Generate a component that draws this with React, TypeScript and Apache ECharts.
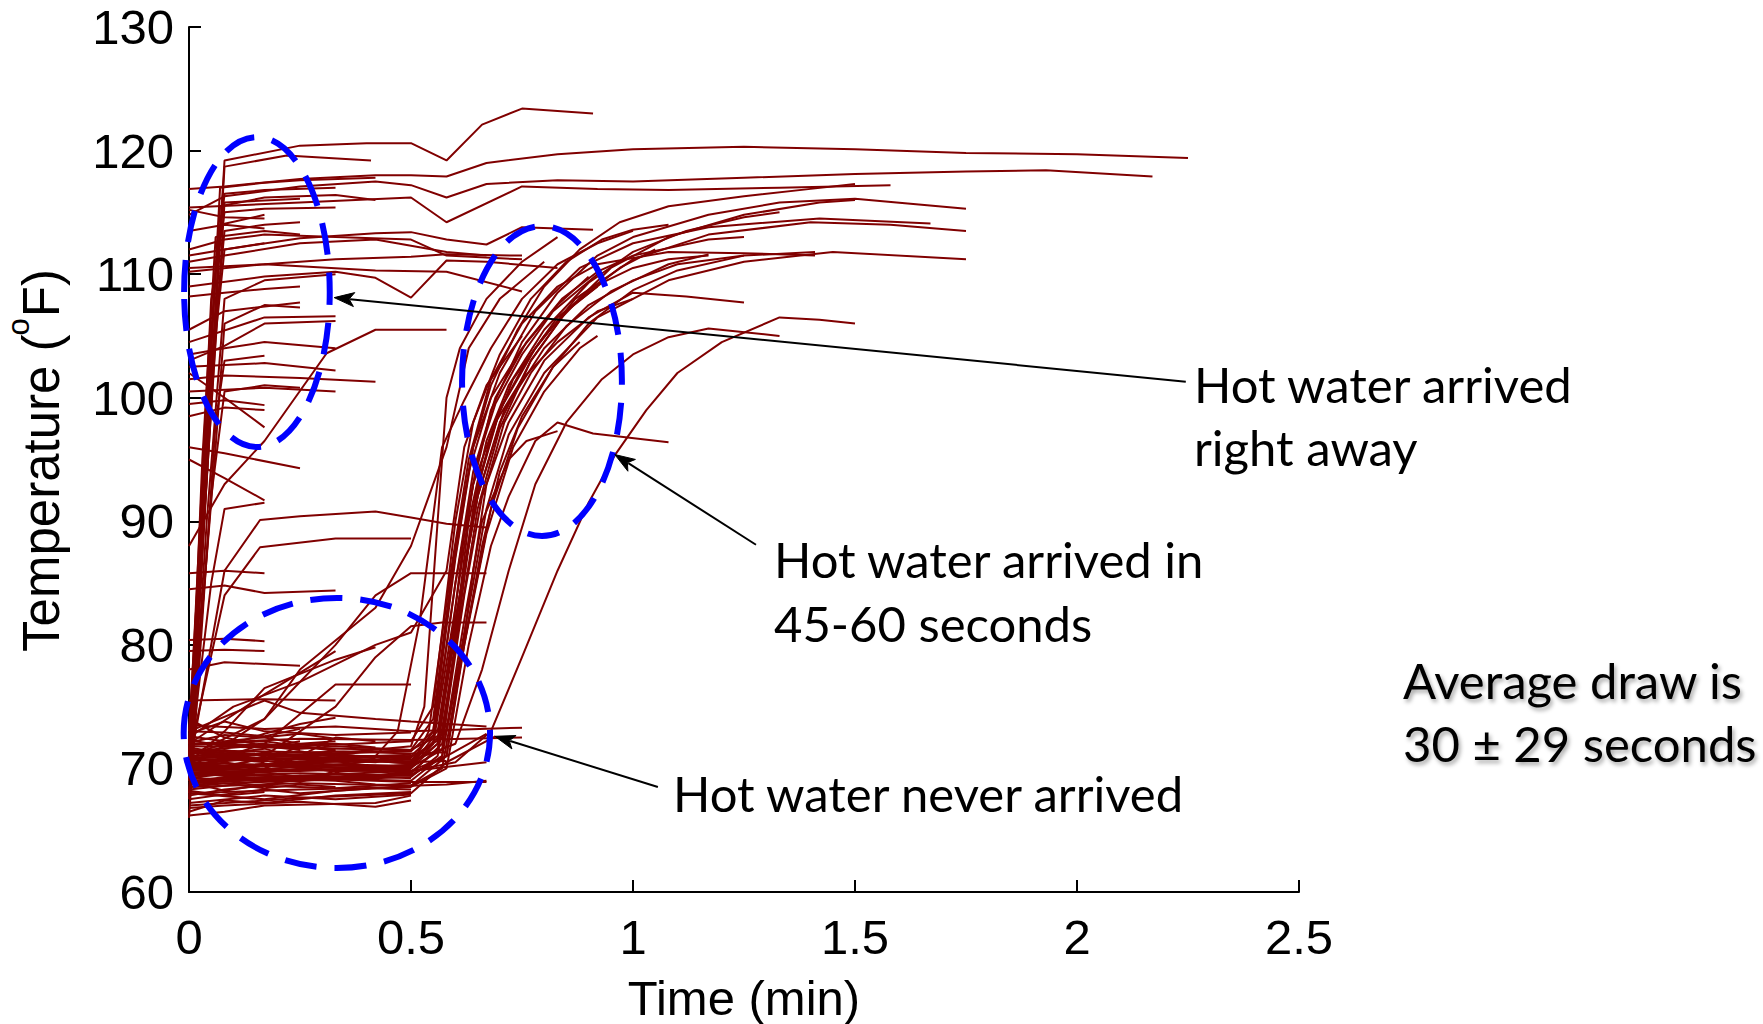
import React, { useEffect, useRef } from "react";
import * as echarts from "echarts";

// ---------------- data ----------------
const xTickValues = [0, 0.5, 1, 1.5, 2, 2.5];
const yTickValues = [60, 70, 80, 90, 100, 110, 120, 130];
const xAxisTitle = "Time (min)";
const yAxisTitleParts = ["Temperature (", "o", "F)"];

// [time (min), temperature (F)]
const hotRightAwayTraces: number[][][] = [
  [[0, 72], [0.04, 96], [0.08, 119.2], [0.25, 120.4], [0.4, 120.6], [0.5, 120.6], [0.58, 119.2], [0.66, 122.1], [0.75, 123.4], [0.91, 123.0]],
  [[0, 71], [0.04, 94], [0.08, 118.7], [0.22, 119.6], [0.41, 119.2]],
  [[0, 116.9], [0.08, 117.1], [0.25, 117.7], [0.42, 118.0], [0.5, 118.0], [0.58, 117.9], [0.67, 119.0], [0.83, 119.7], [1.0, 120.1], [1.25, 120.3], [1.5, 120.1], [1.75, 119.8], [2.0, 119.7], [2.25, 119.4]],
  [[0, 114.8], [0.08, 116.3], [0.25, 117.1], [0.42, 117.5], [0.5, 117.2], [0.58, 116.2], [0.67, 117.3], [0.83, 117.6], [1.0, 117.5], [1.25, 117.8], [1.5, 118.1], [1.75, 118.3], [1.93, 118.4], [2.17, 117.9]],
  [[0, 115.4], [0.25, 115.8], [0.5, 116.2], [0.58, 114.2], [0.75, 117.1], [0.92, 116.9], [1.08, 116.8], [1.33, 117.0], [1.58, 117.2]],
  [[0, 111.5], [0.08, 112], [0.25, 112.9], [0.42, 113.3], [0.5, 113.4], [0.58, 112.8], [0.67, 112.4], [0.75, 113.8], [0.91, 113.6]],
  [[0, 70], [0.04, 100], [0.07, 115.5], [0.17, 116.2], [0.33, 116.4], [0.42, 116.0]],
  [[0, 72], [0.05, 108], [0.08, 115], [0.17, 115.3], [0.33, 115.4]],
  [[0, 115.2], [0.08, 114.6], [0.17, 114.5]],
  [[0, 113.5], [0.08, 114], [0.17, 113.7]],
  [[0, 69], [0.03, 95], [0.06, 113], [0.17, 113.5], [0.25, 113.2]],
  [[0, 112], [0.08, 112.8], [0.17, 113.2], [0.33, 113], [0.5, 112.8], [0.58, 111.5], [0.75, 111.2]],
  [[0, 111], [0.08, 111.5], [0.25, 112.5], [0.42, 112.8], [0.58, 111.8], [0.67, 111.5]],
  [[0, 110.5], [0.17, 110.8], [0.33, 111.2], [0.5, 111.4], [0.58, 111.6], [0.75, 111.5]],
  [[0, 110.2], [0.17, 110.8], [0.42, 110.3], [0.58, 110.2], [0.75, 108.6]],
  [[0, 109], [0.17, 109.8], [0.33, 110.2], [0.42, 109.7], [0.5, 108.1], [0.58, 111.1], [0.67, 111.0], [0.83, 110.5]],
  [[0, 68], [0.04, 90], [0.08, 108], [0.17, 109.5], [0.33, 110]],
  [[0, 108.2], [0.08, 108.5], [0.17, 108.8], [0.25, 109]],
  [[0, 105.5], [0.08, 107], [0.25, 107.7]],
  [[0, 104.5], [0.17, 106.5], [0.33, 106.6]],
  [[0, 103], [0.08, 104.2], [0.17, 106], [0.33, 106.2]],
  [[0, 88], [0.08, 93], [0.17, 96.5], [0.31, 103.6], [0.42, 105.5], [0.58, 105.5]],
  [[0, 103.5], [0.08, 104], [0.17, 104.5], [0.33, 104]],
  [[0, 102.5], [0.17, 102.8], [0.33, 102.2]],
  [[0, 101.5], [0.08, 101.8], [0.25, 101.6], [0.42, 101.3]],
  [[0, 100.5], [0.17, 100.8], [0.33, 100.5]],
  [[0, 99.5], [0.08, 99.8], [0.17, 99.4]],
  [[0, 98.5], [0.08, 99.2], [0.17, 99]],
  [[0, 102], [0.08, 100], [0.17, 97.6]],
  [[0, 96], [0.08, 95.5], [0.25, 94.3]],
  [[0, 95], [0.08, 93.5], [0.17, 91.7]],
  [[0, 69], [0.05, 92], [0.08, 100.5], [0.17, 101], [0.25, 100.8]],
  [[0, 70], [0.06, 105], [0.08, 112], [0.17, 112.5]],
  [[0, 71], [0.07, 117], [0.17, 117.4], [0.25, 117.6], [0.42, 117.8]],
  [[0, 66], [0.06, 98], [0.08, 103], [0.17, 103.4]],
  [[0, 70], [0.05, 85], [0.08, 91], [0.17, 91.5]],
  [[0, 73], [0.06, 110], [0.08, 116.5], [0.17, 116.8], [0.33, 117]],
  [[0, 67.5], [0.05, 100], [0.07, 114], [0.17, 114.8]],
  [[0, 70.5], [0.05, 102], [0.08, 113.5], [0.17, 114], [0.25, 114.2]],
  [[0, 69.5], [0.06, 96], [0.08, 106], [0.17, 107.5], [0.25, 107.3]],
  [[0, 71.5], [0.07, 110], [0.08, 115.8], [0.25, 116.1]],
];

const partialTraces: number[][][] = [
  [[0, 70], [0.08, 86], [0.16, 90.1], [0.25, 90.4], [0.42, 90.8], [0.5, 90.3], [0.58, 89.8], [0.67, 89.5]],
  [[0, 71], [0.08, 84], [0.16, 87.9], [0.33, 88.6], [0.5, 88.6]],
  [[0, 85.8], [0.08, 86], [0.17, 85.8]],
  [[0, 84.5], [0.08, 84.8], [0.17, 84.2], [0.33, 84.4]],
  [[0, 80.4], [0.08, 80.5], [0.17, 80.3]],
  [[0, 79.5], [0.08, 79.6], [0.17, 79.5]],
  [[0, 78], [0.08, 78.6], [0.25, 78.3]],
  [[0, 72], [0.17, 76], [0.33, 79.5]],
  [[0, 70.5], [0.08, 73], [0.17, 76.5], [0.33, 78.8], [0.42, 79.8]],
  [[0, 75.5], [0.17, 75.6], [0.33, 75.5]],
  [[0, 70], [0.17, 72], [0.33, 76.8], [0.5, 76.8]],
  [[0, 70], [0.17, 74], [0.33, 80], [0.42, 84], [0.5, 85.8], [0.67, 85.8]],
  [[0, 71], [0.17, 74], [0.25, 78], [0.42, 83], [0.5, 88], [0.58, 96], [0.63, 104], [0.7, 108], [0.8, 111]],
  [[0, 69], [0.17, 71], [0.33, 75], [0.42, 79], [0.5, 81.5], [0.57, 81.8], [0.67, 81.8]],
  [[0, 72.5], [0.1, 75], [0.25, 77], [0.42, 80], [0.5, 81], [0.58, 86], [0.62, 96], [0.67, 101], [0.75, 105]],
  [[0, 73], [0.17, 75.5], [0.25, 74.5], [0.42, 74], [0.5, 73.8], [0.67, 73.4]],
];

const neverArrivedTraces: number[][][] = [
  [[0, 70.5], [0.08, 70.2], [0.17, 70.8], [0.25, 70.4], [0.33, 70.6], [0.42, 70.1], [0.5, 70.3]],
  [[0, 69.8], [0.08, 70.5], [0.17, 69.9], [0.25, 70.2], [0.33, 69.7], [0.42, 70], [0.5, 69.6]],
  [[0, 71.2], [0.08, 71.5], [0.17, 71], [0.25, 71.4], [0.33, 70.9], [0.5, 71.1]],
  [[0, 68.9], [0.08, 69.3], [0.17, 69.1], [0.33, 69.5], [0.5, 69.2]],
  [[0, 72.3], [0.08, 71.8], [0.17, 72], [0.25, 71.6], [0.33, 71.8], [0.5, 71.5]],
  [[0, 67.8], [0.08, 68.3], [0.17, 68.6], [0.33, 68.4], [0.5, 68.8]],
  [[0, 70], [0.08, 69.5], [0.17, 69.7], [0.25, 69.3]],
  [[0, 71.5], [0.08, 70.8], [0.17, 70.5]],
  [[0, 68.5], [0.08, 68.8], [0.17, 68.4], [0.25, 68.7], [0.33, 68.5]],
  [[0, 69.3], [0.08, 69.9], [0.17, 70.3], [0.33, 70.1], [0.42, 69.8], [0.5, 70]],
  [[0, 73.5], [0.17, 73.2], [0.33, 73.4], [0.5, 73], [0.75, 73.3]],
  [[0, 72], [0.25, 72.4], [0.5, 72.3], [0.75, 72.5]],
  [[0, 69], [0.25, 69.2], [0.5, 68.9], [0.67, 68.9]],
  [[0, 66.2], [0.08, 66.5], [0.17, 67], [0.42, 67.2], [0.5, 67.8]],
  [[0, 67], [0.25, 67.6], [0.5, 68], [0.58, 70.5], [0.69, 72.6]],
  [[0, 68], [0.17, 67.5], [0.33, 68.2], [0.5, 68.6], [0.58, 71], [0.67, 72.8]],
  [[0, 66.8], [0.08, 67], [0.25, 67.3], [0.42, 66.9], [0.5, 67.4]],
  [[0, 70.8], [0.08, 71], [0.25, 70.7], [0.42, 70.9], [0.5, 70.5], [0.58, 70.6]],
  [[0, 74], [0.08, 72.5], [0.17, 71.8], [0.25, 71.5]],
  [[0, 72.8], [0.08, 73.8], [0.17, 73], [0.33, 72.7], [0.5, 72.9]],
  [[0, 71.9], [0.17, 72.2], [0.33, 71.4], [0.5, 71.2], [0.58, 71.3]],
  [[0, 69.6], [0.17, 69.2], [0.33, 69.0], [0.42, 68.7], [0.5, 68.6], [0.58, 68.7], [0.67, 69]],
  [[0, 67.2], [0.17, 67.8], [0.33, 67.5], [0.5, 67.9]],
  [[0, 70.3], [0.17, 70.9], [0.33, 71.2], [0.42, 70.8]],
  [[0, 68.2], [0.08, 67.8], [0.17, 68.1]],
  [[0, 71.1], [0.08, 72], [0.17, 71.7], [0.25, 72.2]],
  [[0, 70.6], [0.08, 69.4], [0.17, 69], [0.33, 69.3]],
  [[0, 72.6], [0.08, 72.2], [0.25, 72.8], [0.33, 72.4]],
  [[0, 68.7], [0.25, 69.0], [0.42, 69.4], [0.5, 69.8], [0.67, 70.5]],
  [[0, 69.5], [0.08, 69.9], [0.17, 70.4], [0.25, 70], [0.33, 70.3], [0.42, 70.6], [0.5, 70.4]],
  [[0, 70.2], [0.08, 70.7], [0.17, 71.3], [0.25, 70.9], [0.33, 71.1], [0.5, 70.8]],
  [[0, 68.3], [0.08, 68.6], [0.17, 69], [0.25, 69.4], [0.33, 69.1], [0.42, 69.3], [0.5, 69.5]],
  [[0, 71.7], [0.08, 71.2], [0.17, 71.6], [0.25, 70.8], [0.42, 71], [0.5, 70.7]],
  [[0, 67.5], [0.08, 67.9], [0.17, 68.3], [0.25, 68], [0.42, 68.4], [0.5, 68.3]],
  [[0, 70.9], [0.08, 71.4], [0.17, 70.6], [0.25, 71.8], [0.33, 71.5]],
  [[0, 69.9], [0.17, 69.4], [0.25, 68.9], [0.33, 69.8], [0.5, 69.9]],
  [[0, 72.1], [0.08, 72.7], [0.17, 72.5], [0.25, 72], [0.33, 72.2]],
  [[0, 66.5], [0.08, 67.4], [0.17, 67.2], [0.33, 67.8], [0.5, 68.1]],
  [[0, 70.1], [0.08, 70], [0.17, 70.3], [0.25, 70.8], [0.42, 70.5], [0.5, 71]],
  [[0, 73], [0.08, 72.9], [0.17, 72.6], [0.25, 73.2]],
  [[0, 71.4], [0.17, 71.9], [0.33, 72], [0.42, 71.7]],
  [[0, 68.9], [0.08, 68.2], [0.17, 68.7], [0.25, 69.1]],
  [[0, 69.2], [0.17, 70], [0.25, 71], [0.33, 72.5], [0.42, 72.2]],
  [[0, 70.4], [0.08, 71.8], [0.17, 72.8], [0.25, 73.6], [0.33, 74.1]],
];

const delayedTraces: number[][][] = [
  [[0, 69.8], [0.17, 70.2], [0.33, 69.9], [0.5, 70.1], [0.55, 72], [0.6, 83], [0.64, 93], [0.68, 99], [0.75, 104.5], [0.83, 108.5], [0.92, 111.5], [1.0, 113], [1.17, 114.8], [1.33, 115.8], [1.5, 116.1], [1.75, 115.3]],
  [[0, 70.5], [0.17, 70.3], [0.33, 70.8], [0.5, 70.4], [0.56, 72.5], [0.61, 84], [0.65, 93], [0.7, 99], [0.78, 104], [0.87, 108], [1.0, 111.2], [1.17, 113.2], [1.4, 114.2], [1.58, 114], [1.75, 113.5]],
  [[0, 68.8], [0.25, 69.2], [0.5, 69], [0.57, 71], [0.62, 81], [0.67, 91], [0.72, 97], [0.8, 102], [0.92, 106.5], [1.08, 109.5], [1.25, 111], [1.45, 111.8], [1.75, 111.2]],
  [[0, 71.2], [0.25, 71], [0.5, 71.5], [0.55, 74], [0.6, 88], [0.64, 96], [0.7, 102], [0.78, 107], [0.88, 110.5], [1.0, 112.5], [1.17, 113.8], [1.42, 114.5], [1.67, 114.1]],
  [[0, 70], [0.25, 70.4], [0.5, 70.2], [0.54, 73], [0.59, 86], [0.63, 95], [0.68, 101.5], [0.75, 106], [0.83, 109], [0.92, 110.8], [1.08, 111.8], [1.25, 111.7], [1.41, 111.5]],
  [[0, 69.5], [0.33, 69.3], [0.5, 69.6], [0.57, 72], [0.62, 84], [0.66, 92], [0.72, 98], [0.8, 103], [0.9, 106.5], [1.0, 108.5], [1.12, 108.2], [1.25, 107.7]],
  [[0, 69], [0.25, 69.4], [0.5, 69.8], [0.6, 70.5], [0.68, 73], [0.75, 79], [0.83, 86], [0.9, 91.5], [0.96, 95.4], [1.03, 99], [1.1, 102], [1.2, 104.5], [1.33, 106.5], [1.42, 106.3], [1.5, 106]],
  [[0, 70.8], [0.25, 70.5], [0.5, 70.6], [0.6, 72], [0.66, 78], [0.72, 86], [0.78, 93], [0.85, 98], [0.93, 101.5], [1.0, 103.5], [1.08, 104.9], [1.17, 105.6], [1.33, 105]],
  [[0, 71.5], [0.25, 71.3], [0.5, 71.4], [0.55, 73], [0.6, 87], [0.64, 96], [0.68, 101], [0.74, 105.5], [0.8, 109], [0.88, 112], [0.97, 114.2], [1.08, 115.5], [1.25, 116.3], [1.4, 116.9], [1.5, 117.3]],
  [[0, 69.2], [0.25, 69], [0.5, 69.3], [0.56, 71], [0.61, 82], [0.65, 91], [0.7, 97.5], [0.77, 103], [0.85, 107], [0.93, 109.3], [1.0, 110.5], [1.08, 111.2], [1.17, 111.5]],
  [[0, 70.3], [0.33, 70.1], [0.5, 70.2], [0.55, 72.5], [0.6, 85], [0.64, 94], [0.69, 100], [0.76, 104.5], [0.84, 108], [0.92, 110.2], [1.0, 111.5], [1.17, 112.8], [1.25, 113]],
  [[0, 68.5], [0.25, 68.8], [0.5, 68.6], [0.57, 70], [0.62, 80], [0.67, 89], [0.73, 96], [0.8, 100.5], [0.88, 104], [0.92, 105]],
  [[0, 72], [0.25, 71.8], [0.5, 72.2], [0.55, 75], [0.6, 90], [0.64, 98], [0.7, 103.5], [0.77, 108], [0.85, 111], [0.93, 112.8], [1.0, 113.6], [1.08, 114]],
  [[0, 70.6], [0.25, 70.8], [0.5, 70.5], [0.55, 73], [0.59, 85], [0.63, 94], [0.68, 100], [0.75, 104], [0.83, 107.5], [0.9, 109.8]],
  [[0, 69.7], [0.33, 69.9], [0.5, 69.7], [0.56, 71.5], [0.6, 82], [0.65, 92], [0.71, 99], [0.8, 104], [0.9, 107.5], [1.0, 109.5], [1.1, 110.8], [1.25, 111.5]],
  [[0, 70], [0.25, 70.5], [0.42, 71], [0.47, 73], [0.52, 82], [0.57, 96], [0.62, 99.8], [0.68, 104], [0.75, 108], [0.83, 110.8], [0.92, 112.5], [1.0, 113.5]],
  [[0, 71], [0.33, 71.2], [0.5, 71.8], [0.53, 75], [0.56, 90], [0.58, 100], [0.61, 104], [0.67, 108], [0.75, 111], [0.83, 113]],
  [[0, 68], [0.25, 68.3], [0.5, 68.5], [0.58, 70], [0.63, 80], [0.68, 88], [0.72, 92], [0.78, 96.5], [0.83, 98], [0.91, 97.1], [1.08, 96.4]],
  [[0, 69.4], [0.25, 69.6], [0.5, 69.4], [0.57, 71], [0.62, 82], [0.66, 90], [0.72, 95], [0.76, 96.5], [0.83, 97.3]],
  [[0, 70.2], [0.25, 69.9], [0.5, 70], [0.56, 72], [0.6, 82], [0.65, 92], [0.7, 98], [0.77, 103], [0.85, 107], [0.95, 110.5], [1.08, 113], [1.25, 114.8], [1.42, 115.8], [1.5, 116]],
  [[0, 71.8], [0.5, 71.5], [0.58, 73], [0.63, 82], [0.68, 91], [0.74, 97.5], [0.82, 102.5], [0.9, 106], [1.0, 108.7], [1.1, 110.3], [1.25, 111.5], [1.41, 111.8]],
  [[0, 70.9], [0.5, 70.7], [0.55, 72], [0.6, 85], [0.64, 93], [0.69, 98], [0.75, 101.5], [0.83, 104.5], [0.92, 107], [1.0, 108]],
  [[0, 70.1], [0.25, 70.3], [0.5, 70.1], [0.57, 71.5], [0.6, 80], [0.63, 88], [0.66, 94], [0.7, 99], [0.76, 103], [0.83, 106.5], [0.92, 109]],
  [[0, 69.6], [0.25, 69.8], [0.5, 70.3], [0.56, 72], [0.6, 81], [0.63, 90], [0.67, 96.5], [0.72, 101], [0.8, 105.5], [0.9, 109.3], [1.0, 111.8], [1.12, 113.5], [1.25, 114.6], [1.33, 115]],
  [[0, 71.3], [0.25, 71.1], [0.5, 70.9], [0.57, 72.5], [0.61, 83], [0.64, 91], [0.68, 97], [0.73, 101.5], [0.8, 105], [0.88, 108], [0.97, 110.5], [1.05, 112]],
  [[0, 68.9], [0.25, 69.2], [0.5, 69.5], [0.58, 71], [0.61, 78], [0.64, 86], [0.67, 93], [0.71, 98], [0.77, 102], [0.85, 105.8], [0.95, 108.6], [1.08, 110.8], [1.17, 111.6]],
  [[0, 70.7], [0.5, 71], [0.56, 73], [0.59, 80], [0.62, 89], [0.65, 95], [0.69, 99.5], [0.75, 103.5], [0.82, 107], [0.92, 110]],
  [[0, 69.9], [0.5, 69.8], [0.58, 71], [0.62, 80], [0.66, 88], [0.7, 94], [0.75, 98.5], [0.82, 102.5], [0.88, 104.5]],
];

// annotation geometry in data units (time, temperature)
const ellipseNotes = [
  { cx: 0.153, cy: 108.55, rx: 0.164, ry: 12.54 },
  { cx: 0.795, cy: 101.35, rx: 0.18, ry: 12.54 },
  { cx: 0.333, cy: 72.87, rx: 0.345, ry: 10.93 },
];
const arrowNotes = [
  { from: [2.245, 101.3], to: [0.327, 108.1] },
  { from: [1.277, 88.1], to: [0.959, 95.4] },
  { from: [1.056, 68.5], to: [0.689, 72.6] },
];
const textNotes = [
  { text: "Hot water arrived", x: 1194, y: 384, shadow: false },
  { text: "right away", x: 1194, y: 447, shadow: false },
  { text: "Hot water arrived in", x: 774, y: 559, shadow: false },
  { text: "45-60 seconds", x: 774, y: 623, shadow: false },
  { text: "Hot water never arrived", x: 673, y: 793, shadow: false },
  { text: "Average draw is", x: 1403, y: 680, shadow: true },
  { text: "30 \u00B1 29 seconds", x: 1403, y: 743, shadow: true },
];

const TRACE_COLOR = "#800000";
const AXIS_FONT = "'Liberation Sans', Arial, sans-serif";
const NOTE_FONT = "Lato, 'Open Sans', sans-serif";
const Y_TITLE_SIZE = 51;
const Y_TITLE_SUP_SIZE = 31;

function measure(text: string, size: number, family: string): number {
  const c = document.createElement("canvas").getContext("2d");
  if (!c) return text.length * size * 0.55;
  c.font = `${size}px ${family}`;
  return c.measureText(text).width;
}

export default function App() {
  const ref = useRef<HTMLDivElement>(null);

  useEffect(() => {
    if (!ref.current) return;
    const chart = echarts.init(ref.current, undefined, { renderer: "svg" });

    const allTraces = [
      ...neverArrivedTraces,
      ...partialTraces,
      ...delayedTraces,
      ...hotRightAwayTraces,
    ];

    chart.setOption({
      animation: false,
      backgroundColor: "#ffffff",
      grid: {
        left: 189,
        right: 464,
        top: 27,
        bottom: 132,
        containLabel: false,
        outerBoundsMode: "none",
      },
      xAxis: {
        type: "value",
        min: xTickValues[0],
        max: xTickValues[xTickValues.length - 1],
        interval: 0.5,
        name: xAxisTitle,
        nameLocation: "middle",
        nameGap: 81,
        nameTextStyle: { fontSize: 49, fontFamily: AXIS_FONT, color: "#000" },
        axisLine: { show: true, onZero: false, lineStyle: { color: "#000", width: 2 } },
        axisTick: { show: true, inside: true, length: 12, lineStyle: { color: "#000", width: 2 } },
        axisLabel: { fontSize: 49, fontFamily: AXIS_FONT, color: "#000", margin: 20 },
        splitLine: { show: false },
      },
      yAxis: {
        type: "value",
        min: yTickValues[0],
        max: yTickValues[yTickValues.length - 1],
        interval: 10,
        axisLine: { show: true, onZero: false, lineStyle: { color: "#000", width: 2 } },
        axisTick: { show: true, inside: true, length: 12, lineStyle: { color: "#000", width: 2 } },
        axisLabel: { fontSize: 49, fontFamily: AXIS_FONT, color: "#000", margin: 15 },
        splitLine: { show: false },
      },
      series: allTraces.map((tr, i) => ({
        type: "line",
        name: "trace" + i,
        data: tr,
        showSymbol: false,
        symbol: "none",
        silent: true,
        lineStyle: { color: TRACE_COLOR, width: 2 },
        z: 2,
      })),
    });

    const px = (p: number[]) => chart.convertToPixel({ gridIndex: 0 }, p) as number[];

    const graphics: any[] = [];

    // rotated y-axis title with superscript "o"
    const w1 = measure(yAxisTitleParts[0], Y_TITLE_SIZE, AXIS_FONT);
    const w2 = measure(yAxisTitleParts[1], Y_TITLE_SUP_SIZE, AXIS_FONT);
    const w3 = measure(yAxisTitleParts[2], Y_TITLE_SIZE, AXIS_FONT);
    const total = w1 + w2 + w3;
    const yMid = (px([0, yTickValues[0]])[1] + px([0, yTickValues[yTickValues.length - 1]])[1]) / 2;
    graphics.push({
      type: "group",
      x: 41,
      y: yMid + 1,
      rotation: Math.PI / 2,
      silent: true,
      children: [
        {
          type: "text",
          x: -total / 2,
          y: 0,
          style: { text: yAxisTitleParts[0], fontSize: Y_TITLE_SIZE, fontFamily: AXIS_FONT, fill: "#000", align: "left", verticalAlign: "middle" },
        },
        {
          type: "text",
          x: -total / 2 + w1 - 1,
          y: -23,
          style: { text: yAxisTitleParts[1], fontSize: Y_TITLE_SUP_SIZE, fontFamily: AXIS_FONT, fill: "#000", align: "left", verticalAlign: "middle" },
        },
        {
          type: "text",
          x: -total / 2 + w1 + w2,
          y: 0,
          style: { text: yAxisTitleParts[2], fontSize: Y_TITLE_SIZE, fontFamily: AXIS_FONT, fill: "#000", align: "left", verticalAlign: "middle" },
        },
      ],
    });

    ellipseNotes.forEach((e) => {
      const c = px([e.cx, e.cy]);
      const r = px([e.cx + e.rx, e.cy + e.ry]);
      graphics.push({
        type: "ellipse",
        z: 100,
        silent: true,
        shape: { cx: c[0], cy: c[1], rx: Math.abs(r[0] - c[0]), ry: Math.abs(c[1] - r[1]) },
        style: { fill: "none", stroke: "#0000ff", lineWidth: 6, lineDash: [32, 18] },
      });
    });
    arrowNotes.forEach((a) => {
      const p0 = px(a.from);
      const p1 = px(a.to);
      const dx = p1[0] - p0[0];
      const dy = p1[1] - p0[1];
      const len = Math.sqrt(dx * dx + dy * dy);
      const ux = dx / len;
      const uy = dy / len;
      const L = 20;
      const W = 7;
      const bx = p1[0] - ux * L;
      const by = p1[1] - uy * L;
      graphics.push({
        type: "line",
        z: 101,
        silent: true,
        shape: { x1: p0[0], y1: p0[1], x2: bx + ux * 4, y2: by + uy * 4 },
        style: { stroke: "#000", lineWidth: 2 },
      });
      graphics.push({
        type: "polygon",
        z: 101,
        silent: true,
        shape: {
          points: [
            [p1[0], p1[1]],
            [bx - uy * W, by + ux * W],
            [bx + ux * 5, by + uy * 5],
            [bx + uy * W, by - ux * W],
          ],
        },
        style: { fill: "#000", stroke: "#000", lineWidth: 1 },
      });
    });
    textNotes.forEach((t) => {
      graphics.push({
        type: "text",
        z: 102,
        silent: true,
        x: t.x,
        y: t.y,
        style: {
          text: t.text,
          fontSize: 49,
          fontFamily: NOTE_FONT,
          fill: "#000",
          align: "left",
          verticalAlign: "middle",
          ...(t.shadow
            ? { textShadowColor: "rgba(0,0,0,0.35)", textShadowBlur: 4, textShadowOffsetX: 2, textShadowOffsetY: 3 }
            : {}),
        },
      });
    });

    chart.setOption({ graphic: { elements: graphics } });

    return () => {
      chart.dispose();
    };
  }, []);

  return (
    <div
      ref={ref}
      style={{ position: "fixed", left: 0, top: 0, width: 1763, height: 1024, background: "#fff" }}
    />
  );
}
